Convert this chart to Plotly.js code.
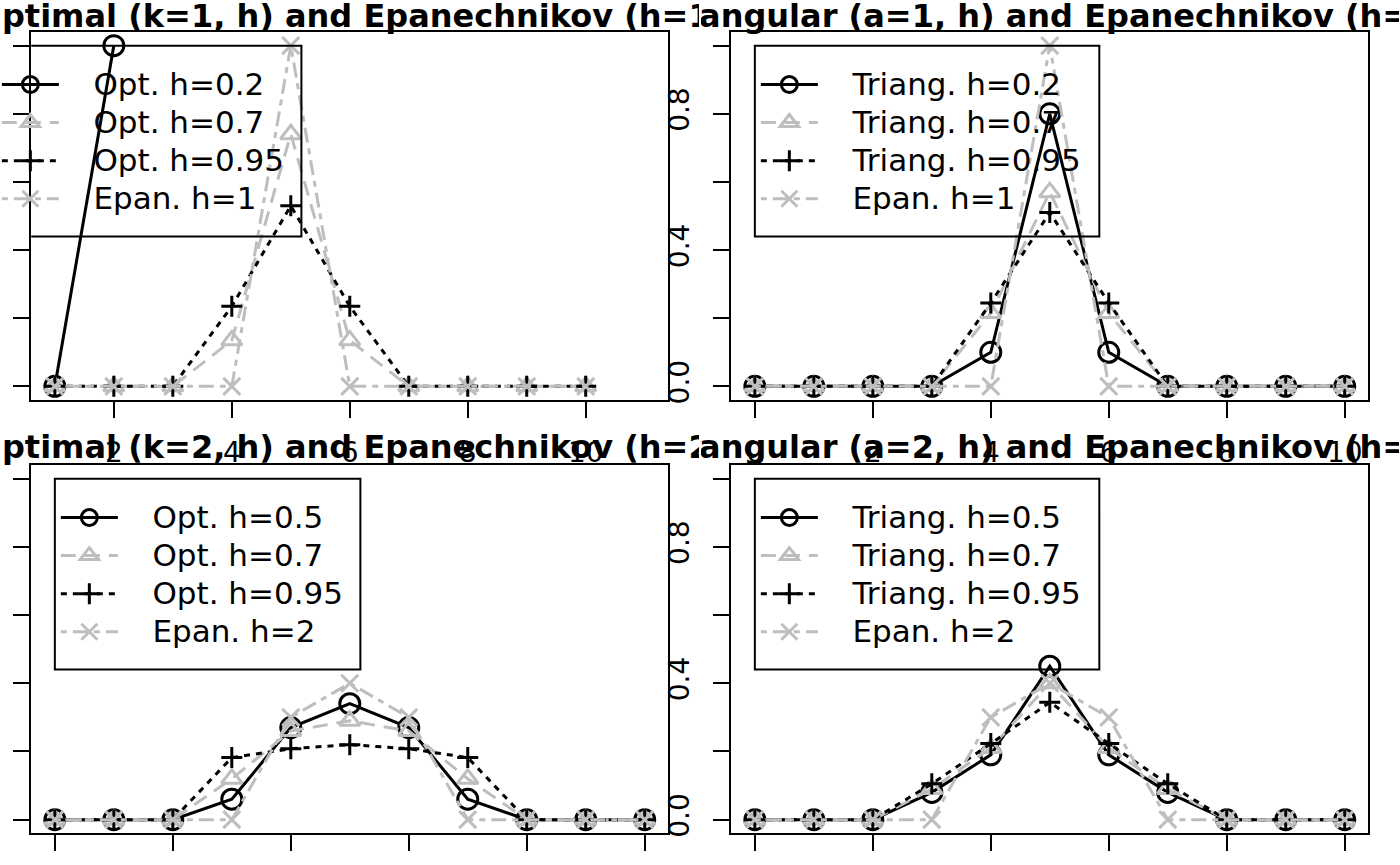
<!DOCTYPE html>
<html>
<head>
<meta charset="utf-8">
<script src="https://cdn.plot.ly/plotly-3.0.1.min.js"></script>
<style>html,body{margin:0;padding:0;background:#fff;}</style>
</head>
<body>
<div id="chart" style="width:1400px;height:865px;"></div>
<script>
// ---------------- DATA ----------------
const xShort = [1, 2];
const xTopLeft = [1, 2, 3, 4, 5, 6, 7, 8, 9, 10];
const xFull = [0, 1, 2, 3, 4, 5, 6, 7, 8, 9, 10];

// Panel 1: Optimal (k=1, h) and Epanechnikov (h=1)
const p1Opt02 = [0, 1.0];
const p1Opt07 = [0, 0, 0, 0.135, 0.74, 0.135, 0, 0, 0, 0];
const p1Opt095 = [0, 0, 0, 0.235, 0.53, 0.235, 0, 0, 0, 0];
const p1Epan1 = [0, 0, 0, 0, 1.0, 0, 0, 0, 0, 0];

// Panel 2: Triangular (a=1, h) and Epanechnikov (h=1)
const p2Tri02 = [0, 0, 0, 0, 0.1, 0.8, 0.1, 0, 0, 0, 0];
const p2Tri07 = [0, 0, 0, 0, 0.215, 0.57, 0.215, 0, 0, 0, 0];
const p2Tri095 = [0, 0, 0, 0, 0.245, 0.51, 0.245, 0, 0, 0, 0];
const p2Epan1 = [0, 0, 0, 0, 0, 1.0, 0, 0, 0, 0, 0];

// Panel 3: Optimal (k=2, h) and Epanechnikov (h=2)
const p3Opt05 = [0, 0, 0, 0.06, 0.27, 0.34, 0.27, 0.06, 0, 0, 0];
const p3Opt07 = [0, 0, 0, 0.12, 0.26, 0.29, 0.26, 0.12, 0, 0, 0];
const p3Opt095 = [0, 0, 0, 0.182, 0.208, 0.22, 0.208, 0.182, 0, 0, 0];
const p3Epan2 = [0, 0, 0, 0, 0.3, 0.4, 0.3, 0, 0, 0, 0];

// Panel 4: Triangular (a=2, h) and Epanechnikov (h=2)
const p4Tri05 = [0, 0, 0, 0.08, 0.19, 0.45, 0.19, 0.08, 0, 0, 0];
const p4Tri07 = [0, 0, 0, 0.09, 0.21, 0.40, 0.21, 0.09, 0, 0, 0];
const p4Tri095 = [0, 0, 0, 0.105, 0.223, 0.344, 0.223, 0.105, 0, 0, 0];
const p4Epan2 = [0, 0, 0, 0, 0.3, 0.4, 0.3, 0, 0, 0, 0];

const names1 = ['Opt. h=0.2', 'Opt. h=0.7', 'Opt. h=0.95', 'Epan. h=1'];
const names2 = ['Triang. h=0.2', 'Triang. h=0.7', 'Triang. h=0.95', 'Epan. h=1'];
const names3 = ['Opt. h=0.5', 'Opt. h=0.7', 'Opt. h=0.95', 'Epan. h=2'];
const names4 = ['Triang. h=0.5', 'Triang. h=0.7', 'Triang. h=0.95', 'Epan. h=2'];

const titles = [
  'Optimal (k=1, h) and Epanechnikov (h=1)',
  'Triangular (a=1, h) and Epanechnikov (h=1)',
  'Optimal (k=2, h) and Epanechnikov (h=2)',
  'Triangular (a=2, h) and Epanechnikov (h=2)'
];

const xTickVals = [0, 2, 4, 6, 8, 10];
const xTickText = ['0', '2', '4', '6', '8', '10'];
const yTickVals = [0, 0.2, 0.4, 0.6, 0.8, 1.0];
const yTickText = ['0.0', '', '0.4', '', '0.8', ''];

// ---------------- STYLE / LAYOUT ----------------
const W = 1400, H = 865;
const FONT = 'DejaVu Sans';
const GRAY = '#bebebe';
const LW = 3;
const styles = [
  {color: '#000000', dash: 'solid', symbol: 'circle-open', size: 20},
  {color: GRAY, dash: '15px,9px', symbol: 'triangle-up-open', size: 18},
  {color: '#000000', dash: '6px,6px', symbol: 'cross-thin-open', size: 15},
  {color: GRAY, dash: '6px,6px,15px,6px', symbol: 'x-thin-open', size: 17}
];

const cols = [[31.25, 668.3], [731.25, 1368.3]];
const rows = [[32, 400], [465, 833.3]];
const xRanges = [[0.6, 11.4], [-0.4, 10.4], [-0.4, 10.4], [-0.4, 10.4]];
const yRange = [-0.04, 1.04];
const legW = [5.18, 5.84, 5.18, 5.84];
const legBottom = 0.44;

const panels = [
  {xs: [xShort, xTopLeft, xTopLeft, xTopLeft], ys: [p1Opt02, p1Opt07, p1Opt095, p1Epan1], names: names1, col: 0, row: 0},
  {xs: [xFull, xFull, xFull, xFull], ys: [p2Tri02, p2Tri07, p2Tri095, p2Epan1], names: names2, col: 1, row: 0},
  {xs: [xFull, xFull, xFull, xFull], ys: [p3Opt05, p3Opt07, p3Opt095, p3Epan2], names: names3, col: 0, row: 1},
  {xs: [xFull, xFull, xFull, xFull], ys: [p4Tri05, p4Tri07, p4Tri095, p4Epan2], names: names4, col: 1, row: 1}
];

const traces = [];
const layout = {
  width: W, height: H,
  margin: {l: 0, r: 0, t: 0, b: 0, autoexpand: false},
  paper_bgcolor: '#ffffff', plot_bgcolor: '#ffffff',
  showlegend: true,
  font: {family: FONT, color: '#000000'},
  shapes: [], annotations: []
};

const legFont = 27;      // sets the row spacing
const legTextSize = 31;  // visible legend text size
const legName = s => '<span style="font-size:' + legTextSize + 'px">\u00a0\u00a0\u00a0' + s + '</span>';

panels.forEach((p, i) => {
  const n = i + 1;
  const xa = 'x' + (n === 1 ? '' : n), ya = 'y' + (n === 1 ? '' : n);
  const legId = 'legend' + (n === 1 ? '' : n);
  const c = cols[p.col], r = rows[p.row];
  const xr = xRanges[i];

  p.ys.forEach((yv, k) => {
    const s = styles[k];
    traces.push({
      type: 'scatter', mode: 'lines+markers',
      x: p.xs[k], y: yv, name: legName(p.names[k]),
      xaxis: xa, yaxis: ya, legend: legId,
      line: {color: s.color, width: LW, dash: s.dash},
      marker: {symbol: s.symbol, size: s.size, color: s.color, line: {width: 3, color: s.color}},
      hoverinfo: 'skip'
    });
  });

  const axCommon = {
    showgrid: false, zeroline: false,
    showline: true, mirror: true, linecolor: '#000', linewidth: 2,
    ticks: 'outside', ticklen: 16, tickwidth: 2, tickcolor: '#000',
    tickfont: {family: FONT, size: 28, color: '#000'},
    fixedrange: true
  };
  layout['xaxis' + (n === 1 ? '' : n)] = Object.assign({}, axCommon, {
    domain: [c[0] / W, c[1] / W], range: xr, anchor: ya,
    tickmode: 'array', tickvals: xTickVals, ticktext: xTickText,
    ticklabelstandoff: 10
  });
  layout['yaxis' + (n === 1 ? '' : n)] = Object.assign({}, axCommon, {
    domain: [1 - r[1] / H, 1 - r[0] / H], range: yRange, anchor: xa,
    tickmode: 'array', tickvals: yTickVals, ticktext: yTickText,
    tickangle: -90, ticklabelstandoff: 13
  });

  // legend box (clipped to plot region like base graphics)
  layout.shapes.push({
    type: 'rect', xref: xa, yref: ya, x0: 0, x1: legW[i], y0: legBottom, y1: 1,
    line: {color: '#000', width: 2}, fillcolor: 'rgba(0,0,0,0)', layer: 'above'
  });

  // legend placement
  const pxX = v => c[0] + (v - xr[0]) / (xr[1] - xr[0]) * (c[1] - c[0]);
  const pxY = v => r[1] - (v - yRange[0]) / (yRange[1] - yRange[0]) * (r[1] - r[0]);
  const legLeft = pxX(0) + 1;
  const legTop = pxY(1) + 14.8;
  layout[legId] = {
    x: legLeft / W, y: 1 - legTop / H, xanchor: 'left', yanchor: 'top',
    xref: 'paper', yref: 'paper',
    bgcolor: 'rgba(0,0,0,0)', borderwidth: 0,
    font: {family: FONT, size: legFont, color: '#000'},
    itemwidth: 57, traceorder: 'normal', itemclick: false, itemdoubleclick: false
  };

  // title, clipped to its figure region
  const centerPx = (c[0] + c[1]) / 2;
  const titleY = p.row === 0 ? 16 : 447;
  layout.annotations.push({
    xref: 'paper', yref: 'paper', x: centerPx / W, y: 1 - titleY / H,
    xanchor: 'center', yanchor: 'middle', showarrow: false,
    text: titles[i], width: 698, align: 'center',
    font: {family: FONT, size: 32, weight: 'bold', color: '#000'}
  });
});

Plotly.newPlot('chart', traces, layout, {displayModeBar: false, staticPlot: true});
</script>
</body>
</html>
